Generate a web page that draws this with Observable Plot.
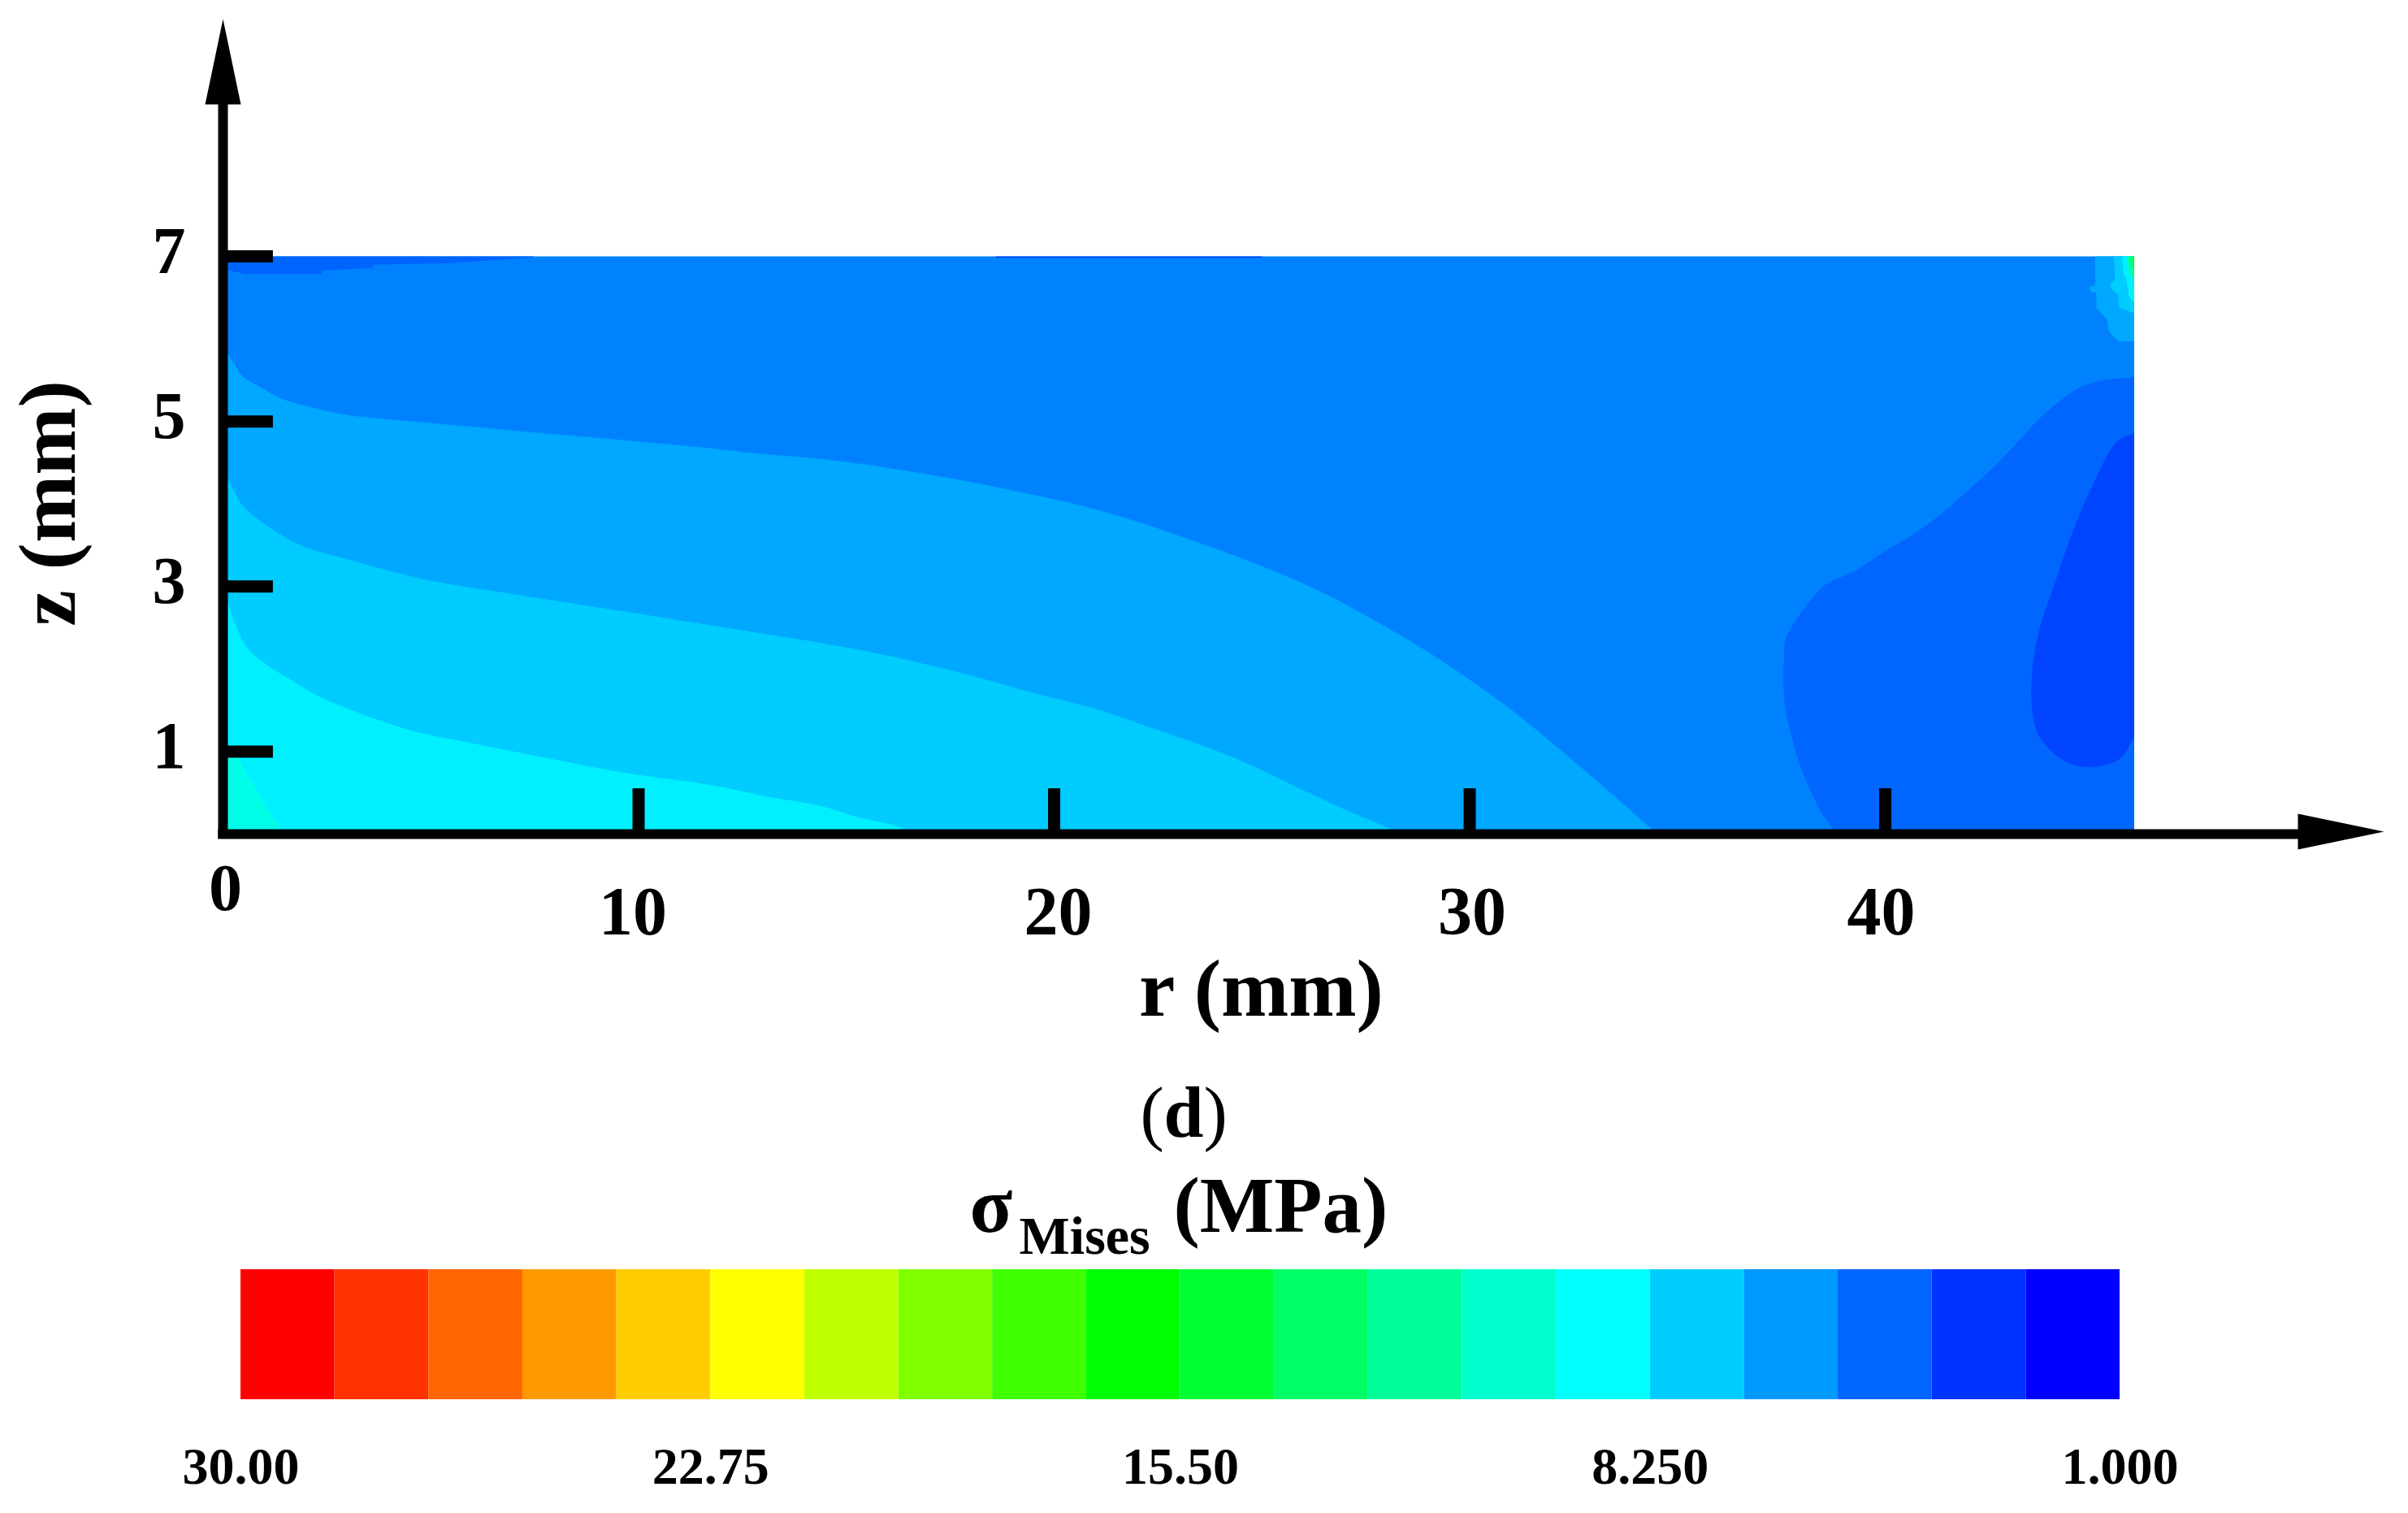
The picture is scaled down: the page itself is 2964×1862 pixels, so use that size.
<!DOCTYPE html>
<html>
<head>
<meta charset="utf-8">
<script src="https://cdn.jsdelivr.net/npm/d3@7"></script>
<script src="https://cdn.jsdelivr.net/npm/@observablehq/plot@0.6"></script>
<style>
html,body{margin:0;padding:0;background:#fff;overflow:hidden}
svg{display:block}
</style>
</head>
<body>
<div id="chart"></div>
<script>
// Specimen extent (mm)
const rMax = 46;
const zMax = 7;
const rTicks = [10, 20, 30, 40];
const zTicks = [1, 3, 5, 7];

// Contour boundaries, as [r, z] in mm.
// The first and last points of the smooth ones lie just outside the specimen, which clips them.
const contour3 = [[0,5.95],[.245,5.71],[.475,5.545],[.845,5.43],[1.44,5.27],[2.14,5.17],[2.97,5.08],[4.35,5.01],[6.38,4.92],[7.39,4.87],[9.7,4.77],[11.73,4.675],[13.11,4.6],[14.39,4.545],[15.5,4.476],[16.7,4.38],[17.94,4.27],[18.68,4.197],[19.69,4.09],[20.66,3.98],[21.45,3.87],[22.23,3.75],[22.97,3.62],[23.98,3.44],[24.68,3.31],[25.37,3.17],[26.57,2.9],[27.77,2.57],[28.86,2.25],[29.97,1.88],[31.07,1.48],[32.09,1.06],[33.01,.666],[33.75,.34],[34.5,0],[35,-.3],[-2,-1],[-.3,6.3]];
const contour4 = [[0,4.45],[.245,4.174],[.43,4.01],[.75,3.85],[1.21,3.686],[1.86,3.5],[3.06,3.32],[4.07,3.18],[4.9,3.08],[6.84,2.92],[8.87,2.76],[9.88,2.68],[12.1,2.5],[14.39,2.315],[15.87,2.176],[17.3,2.01],[18.68,1.827],[19.65,1.69],[21.12,1.5],[22.32,1.29],[23.48,1.09],[24.63,.86],[25.92,.55],[27.12,.27],[28.3,0],[28.8,-.25],[-2,-1],[-.3,4.9]];
const contour5 = [[0,3],[.29,2.548],[.568,2.269],[1.03,2.06],[1.54,1.897],[2.23,1.688],[2.97,1.525],[3.8,1.37],[4.63,1.24],[5.92,1.107],[7.21,.98],[8.5,.852],[9.7,.74],[11.9,.58],[13.02,.46],[14.39,.34],[15.31,.2],[16.14,.108],[16.65,0],[17.2,-.1],[-2,-1],[-.3,3.5]];
const contour6 = [[0,.95],[.35,.92],[.55,.75],[.9,.45],[1.2,.2],[1.5,0],[1.8,-.3],[-1,-1],[-.5,1]];
const contourLow1 = [[38.8,0],[38.45,.27],[38.18,.55],[37.95,.83],[37.76,1.154],[37.58,1.57],[37.56,2.13],[37.62,2.385],[38.08,2.756],[38.59,3.03],[39.28,3.19],[39.84,3.38],[40.76,3.66],[41.4,3.9],[41.96,4.15],[42.51,4.4],[42.9,4.6],[43.33,4.825],[43.72,5.04],[44.68,5.41],[45.28,5.5],[46,5.53],[47,5.55],[47,-1],[39,-.5]];
const contourLow2 = [[46,4.87],[45.58,4.76],[44.86,4.08],[44.44,3.57],[44.02,2.95],[43.72,2.5],[43.54,1.99],[43.54,1.48],[43.72,1.17],[44.32,.885],[44.92,.81],[45.64,.91],[46,1.17],[47,1.6],[48,3],[47,5.4]];
const topEdgeLeft = [[0,7],[0,6.85],[.52,6.786],[2.37,6.786],[2.41,6.83],[3.61,6.86],[3.61,6.9],[5.46,6.916],[7.39,6.985],[7.5,7]];
const topEdgeMid = [[18.6,7],[18.6,6.98],[25,6.98],[25,7]];
const corner1 = [[45.05,7],[45.05,6.655],[44.91,6.62],[44.95,6.57],[45.08,6.56],[45.08,6.377],[45.34,6.23],[45.37,6.1],[45.6,5.97],[46,5.97],[46,7]];
const corner2 = [[45.5,7],[45.53,6.72],[45.4,6.655],[45.47,6.59],[45.6,6.54],[45.63,6.377],[46,6.31],[46,7]];
const corner3 = [[45.7,7],[45.73,6.79],[45.8,6.72],[45.86,6.52],[46,6.43],[46,7]];
const corner4 = [[45.83,7],[45.85,6.85],[45.89,6.77],[46,6.72],[46,7]];
const corner5 = [[45.89,7],[45.92,6.885],[46,6.82],[46,7]];
const specimen = [[0,0],[46,0],[46,7],[0,7]];

// Colour of every filled contour region, in drawing order
const smoothNames = ["contour3","contour4","contour5","contour6","contourLow1","contourLow2"];
const smoothShapes = [contour3,contour4,contour5,contour6,contourLow1,contourLow2];
const sharpNames = ["topEdgeLeft","topEdgeMid","corner1","corner2","corner3","corner4","corner5"];
const sharpShapes = [topEdgeLeft,topEdgeMid,corner1,corner2,corner3,corner4,corner5];
const regionNames = ["specimen",...smoothNames,...sharpNames];
const regionColors = ["#0082ff","#00a8ff","#00ccff","#00f0ff","#00ffe8","#0066ff","#0044ff","#0064ff","#0050ff","#00a8ff","#00ccff","#00f0ff","#00ffa8","#00ff60"];

// Axis arrow heads, [r, z] in mm
const arrowUp = [[-.43,8.84],[0,9.875],[.43,8.84]];
const arrowRight = [[49.93,.247],[52,.03],[49.93,-.187]];

// Colour bar
const legendEdges = [30,28.55,27.10,25.65,24.20,22.75,21.30,19.85,18.40,16.95,15.50,14.05,12.60,11.15,9.70,8.25,6.80,5.35,3.90,2.45,1.00];
const legendColors = ["#ff0000","#ff3300","#ff6600","#ff9900","#ffcc00","#ffff00","#bfff00","#80ff00","#40ff00","#00ff00","#00ff33","#00ff66","#00ff99","#00ffcc","#00ffff","#00ccff","#0099ff","#0066ff","#0033ff","#0000ff"];
const legendTicks = [30,22.75,15.5,8.25,1];
const legendTickLabels = ["30.00","22.75","15.50","8.250","1.000"];

const serif = "'Liberation Serif','Times New Roman',serif";
const rows = (names,shapes)=>names.flatMap((name,i)=>shapes[i].map(([r,z])=>({region:name,r,z})));
const polyRows = pts=>pts.map(([r,z])=>({r,z}));
const region = (data,curve)=>Plot.line(data,{x:"r",y:"z",z:"region",fill:"region",stroke:"none",curve,clip:true});

function label(text, dx, dy, o={}){
  return Plot.text([text],{frameAnchor:"top-left",dx,dy,lineAnchor:"bottom",textAnchor:"start",fontFamily:serif,fontWeight:"bold",fill:"#000",...o});
}
const rTickLabel = (tick,dx)=>Plot.axisX({ticks:[tick],tickSize:0,tickPadding:64,label:null,fontSize:84,fontWeight:"bold",fontFamily:serif,fill:"#000",dx});

const main = Plot.plot({
  width:2964,height:1440,
  marginLeft:274,marginRight:337,marginTop:315,marginBottom:414,
  style:{background:"#fff",overflow:"visible"},
  x:{domain:[0,rMax]},
  y:{domain:[0,zMax]},
  color:{type:"ordinal",domain:regionNames,range:regionColors},
  marks:[
    region(rows(["specimen"],[specimen]),"linear-closed"),
    region(rows(smoothNames,smoothShapes),"catmull-rom-closed"),
    region(rows(sharpNames,sharpShapes),"linear-closed"),
    Plot.ruleX([0],{y1:-.06,y2:8.9,stroke:"#000",strokeWidth:12}),
    Plot.ruleY([0],{x1:-.11,x2:50,stroke:"#000",strokeWidth:12}),
    Plot.ruleX(rTicks,{y1:0,y2:.55,stroke:"#000",strokeWidth:15}),
    Plot.ruleY(zTicks,{x1:0,x2:1.21,stroke:"#000",strokeWidth:15}),
    Plot.line(polyRows(arrowUp),{x:"r",y:"z",fill:"#000",stroke:"none",curve:"linear-closed"}),
    Plot.line(polyRows(arrowRight),{x:"r",y:"z",fill:"#000",stroke:"none",curve:"linear-closed"}),
    rTickLabel(10,-7), rTickLabel(20,5), rTickLabel(30,3), rTickLabel(40,-5),
    Plot.axisY({ticks:zTicks,tickFormat:String,tickSize:0,tickPadding:46,label:null,fontSize:82,fontWeight:"bold",fontFamily:serif,fill:"#000",dy:-6}),
    label("0",3,804,{fontSize:82,textAnchor:"middle"}),
    label("r (mm)",1278,934,{fontSize:100,textAnchor:"middle"}),
    label("z (mm)",-183,304,{fontSize:100,textAnchor:"middle",rotate:-90}),
    label("(",1129,1083,{fontSize:88,fontWeight:"normal"}),
    label("d",1158,1083,{fontSize:88}),
    label(")",1207,1083,{fontSize:88,fontWeight:"normal"})
  ]
});

const legend = Plot.plot({
  width:2964,height:422,
  marginLeft:296,marginRight:355,marginTop:122,marginBottom:140,
  style:{background:"#fff",overflow:"visible"},
  x:{domain:[30,1]},
  color:{type:"identity"},
  marks:[
    Plot.barX(legendColors,{x1:(d,i)=>legendEdges[i],x2:(d,i)=>legendEdges[i+1],fill:d=>d}),
    Plot.axisX({ticks:legendTicks,tickFormat:d=>legendTickLabels[legendTicks.indexOf(d)],tickSize:0,tickPadding:58,label:null,fontSize:64,fontWeight:"bold",fontFamily:serif,fill:"#000"}),
    label("σ",897,-47,{fontSize:97}),
    label("Mises",958,-20,{fontSize:66}),
    label("(MPa)",1148,-47,{fontSize:97})
  ]
});

document.getElementById("chart").append(main,legend);
</script>
</body>
</html>
